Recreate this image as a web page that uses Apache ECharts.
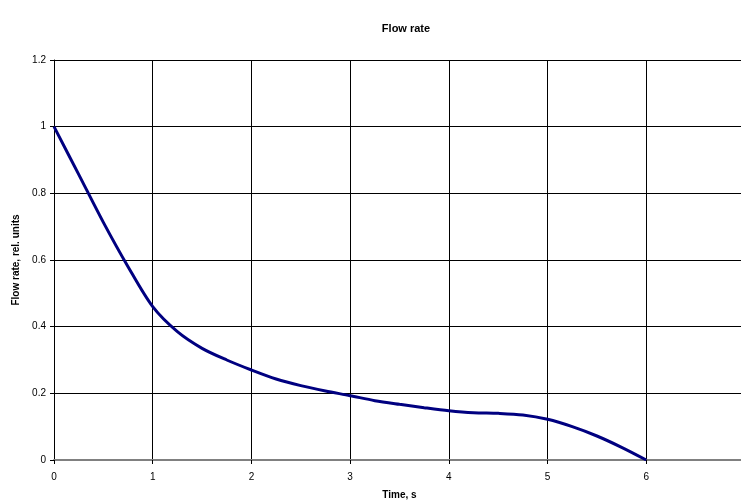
<!DOCTYPE html>
<html>
<head>
<meta charset="utf-8">
<script src="https://cdn.jsdelivr.net/npm/echarts@6/dist/echarts.min.js"></script>
<style>
html,body{margin:0;padding:0;background:#fff;}
#c{width:741px;height:500px;}
</style>
</head>
<body>
<div id="c"></div>
<script>
const timeValues = [0, 0.25, 0.5, 0.75, 1, 1.25, 1.5, 1.75, 2, 2.25, 2.5, 2.75, 3, 3.25, 3.5, 3.75, 4, 4.25, 4.5, 4.75, 5, 5.25, 5.5, 5.75, 6];
const flowValues = [1.0, 0.857, 0.713, 0.58, 0.46, 0.385, 0.335, 0.30, 0.27, 0.243, 0.223, 0.207, 0.193, 0.178, 0.167, 0.157, 0.148, 0.142, 0.14, 0.135, 0.122, 0.10, 0.072, 0.038, 0];
const titleText = "Flow rate";
const xName = "Time, s";
const yName = "Flow rate, rel. units";

const chart = echarts.init(document.getElementById('c'), null, {renderer: 'canvas'});
const font = 'Liberation Sans, Arial, sans-serif';
chart.setOption({
  animation: false,
  backgroundColor: '#fff',
  title: {
    text: titleText,
    left: 401, top: 18,
    textAlign: 'center',
    textStyle: {fontFamily: font, fontSize: 11, fontWeight: 'bold', color: '#000'}
  },
  grid: {left: 54, width: 691, top: 60, height: 400, containLabel: false, outerBoundsMode: 'none'},
  xAxis: {
    type: 'value', min: 0, max: 7, interval: 1,
    name: xName, nameLocation: 'middle', nameGap: 30,
    nameTextStyle: {fontFamily: font, fontSize: 10, fontWeight: 'bold', color: '#000'},
    axisLine: {show: true, onZero: false, lineStyle: {color: '#808080', width: 2}},
    axisTick: {show: true, inside: false, length: 4, lineStyle: {color: '#000'}},
    axisLabel: {fontFamily: font, fontSize: 10, color: '#000', margin: 12,
      formatter: v => (v >= 7 ? '' : String(v))},
    splitLine: {show: true, lineStyle: {color: '#000', width: 1}}
  },
  yAxis: {
    type: 'value', min: 0, max: 1.2, interval: 0.2,
    name: yName, nameLocation: 'middle', nameGap: 32, nameRotate: 90,
    nameTextStyle: {fontFamily: font, fontSize: 10, fontWeight: 'bold', color: '#000'},
    axisLine: {show: true, onZero: false, lineStyle: {color: '#000', width: 1}},
    axisTick: {show: true, inside: false, length: 4, lineStyle: {color: '#000'}},
    axisLabel: {fontFamily: font, fontSize: 10, color: '#000', margin: 8},
    splitLine: {show: true, lineStyle: {color: '#000', width: 1}}
  },
  series: [{
    type: 'line',
    data: timeValues.map((t, i) => [t, flowValues[i]]),
    smooth: 0.3,
    showSymbol: false,
    lineStyle: {color: '#000080', width: 3}
  }]
});
</script>
</body>
</html>
